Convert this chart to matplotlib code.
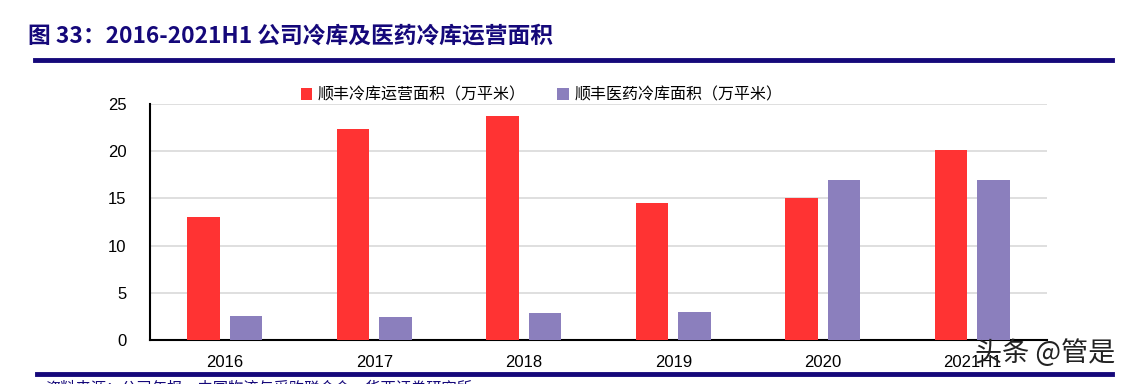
import matplotlib
matplotlib.use("Agg")
import matplotlib.pyplot as plt
from matplotlib.lines import Line2D
import numpy as np

plt.rcParams["font.family"] = ["Noto Sans CJK SC", "DejaVu Sans"]

# 数据
years = ["2016", "2017", "2018", "2019", "2020", "2021H1"]
cold_area = [13.0, 22.4, 23.7, 14.5, 15.0, 20.1]      # 顺丰冷库运营面积
pharma_area = [2.5, 2.4, 2.9, 3.0, 17.0, 17.0]        # 顺丰医药冷库面积
yticks = [0, 5, 10, 15, 20, 25]

RED = "#FF3333"
PURPLE = "#8B7FBD"
NAVY = "#15087A"

W, H = 1135, 384
fig = plt.figure(figsize=(W / 100, H / 100), dpi=100)

# 标题
fig.text(28 / W, 1 - 36 / H, "图 33：2016-2021H1 公司冷库及医药冷库运营面积",
         fontsize=16.4, fontweight="bold", color=NAVY, va="center", ha="left")
fig.add_artist(Line2D([35 / W, 1112 / W], [1 - 60 / H, 1 - 60 / H],
                      color=NAVY, lw=3.5))
fig.add_artist(Line2D([37 / W, 1112 / W], [1 - 374 / H, 1 - 374 / H],
                      color=NAVY, lw=3.5))
fig.text(45 / W, 1 - 388 / H, "资料来源：公司年报，中国物流与采购联合会，华西证券研究所",
         fontsize=11, color=NAVY, va="center", ha="left")

# 主图
ax = fig.add_axes([150 / W, 1 - 340 / H, (1047 - 150) / W, (340 - 104) / H])
x = np.arange(len(years))
bw = 0.22
off = 0.142
ax.bar(x - off, cold_area, width=bw, color=RED, label="顺丰冷库运营面积（万平米）", zorder=3)
ax.bar(x + off, pharma_area, width=bw, color=PURPLE, label="顺丰医药冷库面积（万平米）", zorder=3)

ax.set_xlim(-0.5, len(years) - 0.5)
ax.set_ylim(0, 25)
ax.set_yticks(yticks)
ax.set_xticks(x)
ax.set_xticklabels(years)
ax.yaxis.grid(True, color="#D9D9D9", lw=1.2, zorder=0)
ax.set_axisbelow(True)
for s in ["top", "right"]:
    ax.spines[s].set_visible(False)
ax.spines["left"].set_linewidth(1.5)
ax.spines["bottom"].set_linewidth(1.5)
ax.tick_params(axis="both", length=0, labelsize=12, colors="black")
ax.tick_params(axis="x", pad=11)
ax.tick_params(axis="y", pad=17)
for lab in ax.get_xticklabels() + ax.get_yticklabels():
    lab.set_family(["Liberation Sans"])

ax.legend(loc="center left", bbox_to_anchor=(0.168, 1.038), ncol=2, frameon=False,
          fontsize=11.5, handlelength=0.7, handleheight=0.7, handletextpad=0.35,
          columnspacing=2.0, borderaxespad=0, borderpad=0)

# 水印
fig.text(975 / W, 1 - 353 / H, "头条 @管是", fontsize=19.5, color="#222222",
         va="center", ha="left")

fig.savefig("out.png", dpi=100)
